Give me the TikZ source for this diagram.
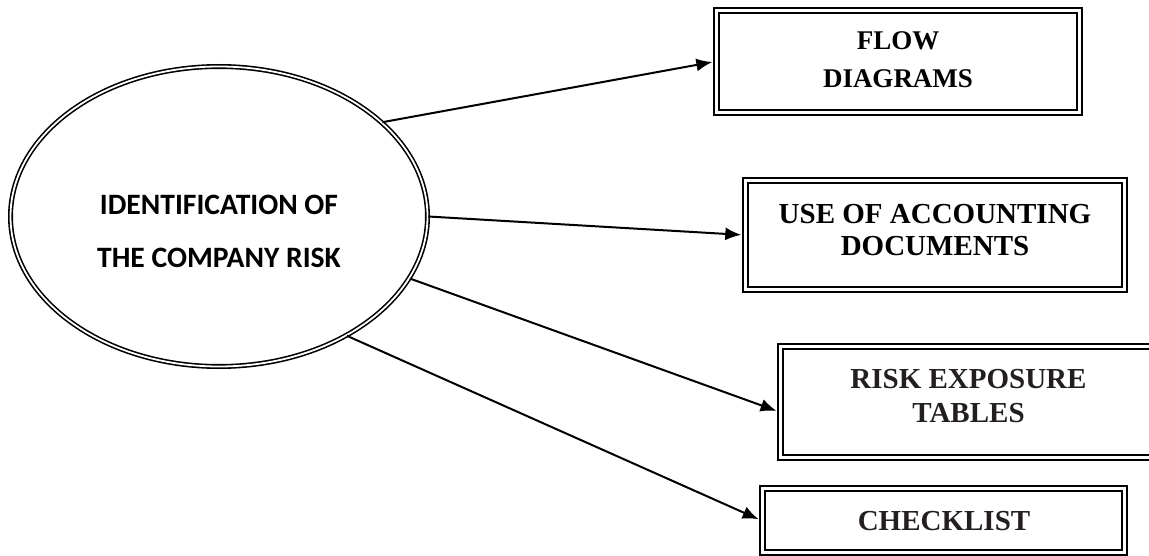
\documentclass[tikz,border=0pt]{standalone}
\usepackage{fontspec}
\setmainfont{Liberation Serif}
\newfontfamily\calib{Carlito}
\usetikzlibrary{arrows.meta,shapes.geometric,calc}
\definecolor{inkdark}{HTML}{231F20}
\tikzset{
  dbox/.style={draw, rectangle, double, line width=2.2pt, double distance=2.4pt, inner sep=0pt},
  dell/.style={draw, ellipse, double, line width=1.6pt, double distance=1.8pt, inner sep=0pt},
  lbl/.style={font=\bfseries\fontsize{29}{33}\selectfont, align=center, inner sep=0pt},
  conn/.style={line width=2pt, -{Latex[length=16pt,width=13pt]}, shorten >=3pt},
}
\begin{document}
\begin{tikzpicture}[x=1pt,y=-1pt]
\useasboundingbox (0,0) rectangle (1149,556);
\clip (0,0) rectangle (1149,556);
% central ellipse
\node[dell, minimum width=417pt, minimum height=300pt] (ell) at (219,216.5) {};
\node[font=\calib\bfseries\fontsize{29.6}{54}\selectfont, align=center, inner sep=0pt, anchor=base] (et) at (219,268) {IDENTIFICATION OF\\THE COMPANY RISK};
% boxes
\node[dbox, minimum width=363.2pt, minimum height=102.2pt] (b1) at (898,61.5) {};
\node[lbl, font=\bfseries\fontsize{27}{38}\selectfont, anchor=base] (t1) at (898,88) {FLOW\\DIAGRAMS};
\node[dbox, minimum width=379.2pt, minimum height=109.2pt] (b2) at (935,235) {};
\node[lbl, font=\bfseries\fontsize{29}{32}\selectfont, anchor=base] (t2) at (935,255) {USE OF ACCOUNTING\\DOCUMENTS};
\node[dbox, minimum width=376pt, minimum height=111pt] (b3) at (968.5,402) {};
\node[lbl, text=inkdark, font=\bfseries\fontsize{29}{34}\selectfont, anchor=base] (t3) at (968.5,422) {RISK EXPOSURE\\TABLES};
\node[dbox, minimum width=362pt, minimum height=64pt] (b4) at (943.5,520.5) {};
\node[lbl, text=inkdark, anchor=base] (t4) at (944,530) {CHECKLIST};
% connectors
\draw[conn] (ell.30.7) -- (b1.west);
\draw[conn] (ell.0) -- (b2.west);
\draw[conn] (ell.-18.9) -- (b3.183.3);
\draw[conn] (ell.-43.8) -- (b4.west);
\end{tikzpicture}
\end{document}
